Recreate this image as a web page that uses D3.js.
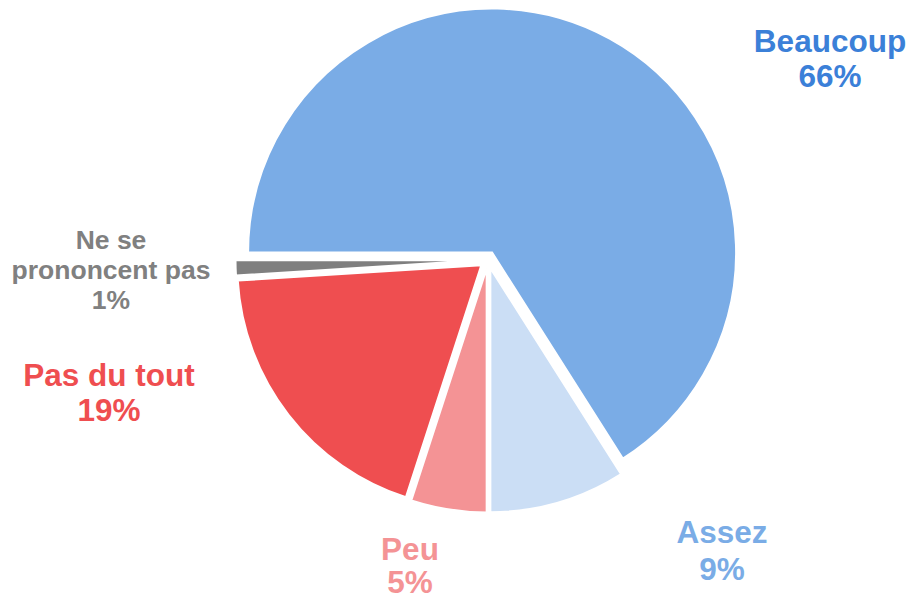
<!DOCTYPE html>
<html lang="fr">
<head>
<meta charset="UTF-8">
<title>Pie</title>
<style>
  body { margin: 0; background: #fff; }
  text { font-family: "Liberation Sans", Arial, sans-serif; font-weight: bold; }
</style>
</head>
<body></body>
<script src="https://cdn.jsdelivr.net/npm/d3@7"></script>
<script>
    const labels = ["Beaucoup", "Assez", "Peu", "Pas du tout", "Ne se prononcent pas"];
    const values = [66, 9, 5, 19, 1];
    const sliceColors = ["#7aace6", "#cbdef5", "#f49395", "#ef4e50", "#7f7f7f"];
    const textColors = ["#3b80d8", "#7aace6", "#f49395", "#ef4e50", "#808080"];

    let width = 909;
    let height = 599;

    let svg = d3.select("body")
                .append("svg")
                .attr("width", width)
                .attr("height", height);

    const cx = 488, cy = 260, radius = 244, explode = 8.5;

    const pie = d3.pie()
        .sort(null)
        .value(d => d)
        .startAngle(-Math.PI / 2)
        .endAngle(3 * Math.PI / 2);

    const arc = d3.arc().innerRadius(0).outerRadius(radius);
    const arcs = pie(values);

    const g = svg.append("g").attr("transform", `translate(${cx},${cy})`);

    g.selectAll("path")
        .data(arcs)
        .enter().append("path")
        .attr("d", arc)
        .attr("transform", d => {
            const mid = (d.startAngle + d.endAngle) / 2;
            return `translate(${explode * Math.sin(mid)},${-explode * Math.cos(mid)})`;
        })
        .style("fill", (d, i) => sliceColors[i])
        .style("stroke", "#fff")
        .style("stroke-width", 2);

    // label positions (centre x, first baseline, line height, font size)
    const labelPos = [
        [830, 52, 35, 31.5],
        [722, 543, 37, 31.5],
        [410, 560, 33, 31.5],
        [109, 386, 35, 31.5],
        [111, 249, 30, 26.5]
    ];

    labels.forEach((name, i) => {
        const [x, y, lh, fs] = labelPos[i];
        const lines = i === 4 ? ["Ne se", "prononcent pas"] : [name];
        lines.push(values[i] + "%");
        const t = svg.append("text")
            .attr("text-anchor", "middle")
            .style("font-size", fs + "px")
            .style("fill", textColors[i]);
        lines.forEach((s, k) => {
            t.append("tspan").attr("x", x).attr("y", y + k * lh).text(s);
        });
    });
</script>
</html>
